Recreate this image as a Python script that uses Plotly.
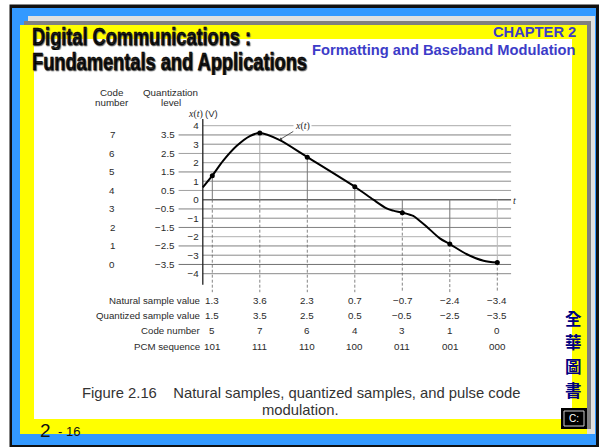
import plotly.graph_objects as go

W, H = 600, 447

# ---- data ----
sample_t = [1, 2, 3, 4, 5, 6, 7]
natural_values = [1.3, 3.6, 2.3, 0.7, -0.7, -2.4, -3.4]
natural_labels = ["1.3", "3.6", "2.3", "0.7", "−0.7", "−2.4", "−3.4"]
quantized_values = ["1.5", "3.5", "2.5", "0.5", "−0.5", "−2.5", "−3.5"]
code_numbers = ["5", "7", "6", "4", "3", "1", "0"]
pcm_sequence = ["101", "111", "110", "100", "011", "001", "000"]
curve_t = [0.8, 1, 1.23, 1.51, 1.79, 2, 2.41, 3, 4, 4.39, 4.67, 4.81, 5, 5.23, 5.37, 5.51, 5.79, 6, 6.36, 6.71, 7]
curve_v = [0.67, 1.3, 2.11, 2.9, 3.44, 3.6, 3.23, 2.3, 0.7, 0.0, -0.47, -0.59, -0.7, -0.88, -1.15, -1.45, -2.09, -2.4, -2.95, -3.3, -3.4]
integer_levels = [4, 3, 2, 1, 0, -1, -2, -3, -4]
integer_labels = ["4", "3", "2", "1", "0", "−1", "−2", "−3", "−4"]
integer_colors = ["#aaaaaa", "#8a8a8a", "#a0a0a0", "#8a8a8a", "#666666", "#8a8a8a", "#b0b0b0", "#8a8a8a", "#8a8a8a"]
half_levels = [3.5, 2.5, 1.5, 0.5, -0.5, -1.5, -2.5, -3.5]
half_labels = ["3.5", "2.5", "1.5", "0.5", "−0.5", "−1.5", "−2.5", "−3.5"]
half_colors = ["#808080", "#a0a0a0", "#808080", "#a0a0a0", "#808080", "#808080", "#808080", "#707070"]
level_codes = ["7", "6", "5", "4", "3", "2", "1", "0"]
stem_colors = ["#777777", "#aaaaaa", "#777777", "#777777", "#777777", "#777777", "#bbbbbb"]

T_END, T_AXIS = 7.29, 0.8
LEVEL_LEFT_T = 0.29
AXIS_TOP, AXIS_BOTTOM = 4.36, -4.6
DASH_BOTTOM = -5.0

TXT = "#2a2a2a"
SANS = "Liberation Sans, Arial, sans-serif"
SERIF = "Liberation Serif, serif"
BLUE_TXT = "#3c3cc8"


def fx(p):
    return p / W


def fy(p):
    return 1 - p / H


def rect(x0, y0, x1, y1, color, line=None, width=0):
    return dict(type="rect", xref="paper", yref="paper", x0=fx(x0), x1=fx(x1), y0=fy(y0), y1=fy(y1),
                fillcolor=color, line=dict(color=line or color, width=width), layer="below")


shapes = [
    rect(9.5, 4.5, 599, 447, "#111111"),
    rect(12, 8, 596, 445, "#3399ff"),
    rect(28, 16, 595, 434, "#e0e0e0"),
    rect(24, 21, 591, 429, "#808080"),
    rect(20, 25, 587, 434, "#ffff00"),
    rect(34, 39, 572, 419, "#ffffff"),
    rect(561, 408, 587, 429, "#000000"),
    rect(564, 411, 584, 426, "#000000", "#cccccc", 1),
]

fig = go.Figure()


def line(xs, ys, color, width=1, dash=None):
    fig.add_trace(go.Scatter(x=xs, y=ys, mode="lines", hoverinfo="skip", showlegend=False,
                             line=dict(color=color, width=width, dash=dash)))


for lv, c in zip(integer_levels, integer_colors):
    line([T_AXIS, T_END], [lv, lv], c, 1.4 if lv == 0 else 1)
for lv, c in zip(half_levels, half_colors):
    line([LEVEL_LEFT_T, T_END], [lv, lv], c, 1)
for t, v, c in zip(sample_t, natural_values, stem_colors):
    line([t, t], [0, v], c, 1)
    line([t, t], [min(v, 0), DASH_BOTTOM], "#666666", 0.8, "3px,2px")
line([T_AXIS, T_AXIS], [AXIS_TOP, AXIS_BOTTOM], "#222222", 1.3)

fig.add_trace(go.Scatter(x=curve_t, y=curve_v, mode="lines", hoverinfo="skip", showlegend=False,
                         line=dict(color="#000000", width=2, shape="spline", smoothing=0.8)))
fig.add_trace(go.Scatter(x=sample_t, y=natural_values, mode="markers", hoverinfo="skip", showlegend=False,
                         marker=dict(color="#000000", size=5)))

ann = []


def txt(text, x, y, size=9.8, color=TXT, anchor="center", family=SANS, **kw):
    ann.append(dict(text=text, xref="paper", yref="paper", x=fx(x), y=fy(y), xanchor=anchor, yanchor="middle",
                    showarrow=False, font=dict(size=size, color=color, family=family), **kw))


def cell(text, t, y, size=9.8):
    ann.append(dict(text=text, xref="x", yref="paper", x=t, y=fy(y), xanchor="center", yanchor="middle",
                    showarrow=False, font=dict(size=size, color=TXT, family=SANS)))


# header texts
title_font = dict(size=24, color="#000000", family="Liberation Sans, sans-serif",
                  weight="bold", shadow="1px 1px 1px #555555")
for s, y, w in (("Digital Communications :", 36, 221), ("Fundamentals and Applications", 61.5, 277)):
    ann.append(dict(text=s, xref="paper", yref="paper", x=fx(29), y=fy(y), xanchor="left", yanchor="middle",
                    width=w, showarrow=False, font=title_font))
txt("<b>CHAPTER 2</b>", 577.5, 32, 14.7, BLUE_TXT, "right")
txt("<b>Formatting and Baseband Modulation</b>", 577.5, 50, 14.7, BLUE_TXT, "right")

# left headers
txt("Code", 112, 92)
txt("number", 112, 102.5)
txt("Quantization", 170.5, 92)
txt("level", 170.5, 102.5)
txt("<i>x</i>(<i>t</i>)", 195.5, 113.5, 10, family=SERIF)
txt("(V)", 211, 113.5, 9.5)
txt("<i>t</i>", 514, 200, 10, family=SERIF)

for lv, lab, code in zip(half_levels, half_labels, level_codes):
    ann.append(dict(text=lab, xref="paper", yref="y", x=fx(176.5), y=lv, xanchor="right", yanchor="middle",
                    showarrow=False, font=dict(size=9.8, color=TXT, family=SANS)))
    ann.append(dict(text=code, xref="paper", yref="y", x=fx(112), y=lv, xanchor="center", yanchor="middle",
                    showarrow=False, font=dict(size=9.8, color=TXT, family=SANS)))

# sample table
rows = [("Natural sample value", natural_labels, 300.5),
        ("Quantized sample value", quantized_values, 315.5),
        ("Code number", code_numbers, 330.7),
        ("PCM sequence", pcm_sequence, 346)]
for label, vals, y in rows:
    txt(label, 201.5, y, 9.7, anchor="right")
    for t, v in zip(sample_t, vals):
        cell(v, t, y)

# arrow label
ann.append(dict(text="<i>x</i>(<i>t</i>)", x=2.41, y=3.23, xref="x", yref="y", ax=23, ay=-14,
                showarrow=True, arrowhead=2, arrowsize=0.7, arrowwidth=0.8, arrowcolor="#333333",
                bgcolor="#ffffff", font=dict(size=10, color=TXT, family=SERIF)))

# caption
txt("Figure 2.16    Natural samples, quantized samples, and pulse code", 300.5, 393, 14.8, "#333333")
txt("modulation.", 300, 410, 14.8, "#333333")

# page number
txt("2", 45.5, 430, 19, "#111111")
txt("- 16", 68.5, 431.5, 13, "#111111")

# publisher
for ch, y in zip("全華圖書", (318, 342, 366, 390)):
    txt("<b>%s</b>" % ch, 573.5, y, 16.5, "#000080", family="Noto Sans CJK TC")
txt("C:", 574, 418.5, 10, "#ffffff")

fig.update_layout(
    width=W, height=H, margin=dict(l=0, r=0, t=0, b=0, pad=0), autosize=False,
    paper_bgcolor="#ffffff", plot_bgcolor="rgba(0,0,0,0)", showlegend=False,
    shapes=shapes, annotations=ann,
    xaxis=dict(visible=False, range=[1 - 212.3 / 47.5, 1 + (600 - 212.3) / 47.5], domain=[0, 1], fixedrange=True),
    yaxis=dict(range=[(199.7 - 447) / 18.5, 199.7 / 18.5], domain=[0, 1], anchor="free", position=202.7 / W,
               tickmode="array", tickvals=integer_levels, ticktext=integer_labels, showgrid=False, zeroline=False,
               showline=False, ticks="", ticklabelstandoff=4,
               tickfont=dict(size=9.8, color=TXT, family=SANS), fixedrange=True),
)

# The title face in the reference is a heavy condensed one; squeeze real text to its measured widths.
squeeze = """
document.body.style.margin='0';document.documentElement.style.overflow='hidden';
document.querySelectorAll('.annotation-text').forEach(function(t){
  var s=t.textContent, w=s.indexOf('Digital')===0?219:(s.indexOf('Fundamentals')===0?275:0);
  if(w){t.setAttribute('textLength',w);t.setAttribute('lengthAdjust','spacingAndGlyphs');
        t.style.stroke='#000';t.style.strokeWidth='0.5px';}
});
"""
fig.write_html("out.html", config=dict(displayModeBar=False), post_script=squeeze)
